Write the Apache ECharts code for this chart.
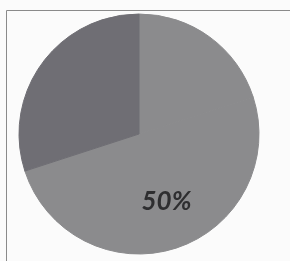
<!DOCTYPE html>
<html>
<head>
<meta charset="utf-8">
<script src="https://cdn.jsdelivr.net/npm/echarts@6/dist/echarts.min.js"></script>
<style>
  html, body { margin: 0; padding: 0; background: #fbfbfb; }
  #chart { width: 290px; height: 261px; }
</style>
</head>
<body>
<div id="chart"></div>
<script>
// slices, clockwise from 12 o'clock
var names = ["A", "B", "C"];
var values = [20, 50, 30];
var colors = ["#8b8b8d", "#8b8b8d", "#6f6e74"];
var labelled = [false, true, false];

var chart = echarts.init(document.getElementById("chart"));

var data = [];
for (var i = 0; i < values.length; i++) {
  data.push({
    name: names[i],
    value: values[i],
    // border in the slice's own colour hides the seam between same-coloured slices
    itemStyle: { color: colors[i], borderColor: colors[i], borderWidth: 1 },
    label: { show: labelled[i] }
  });
}

var option = {
  backgroundColor: "#fbfbfb",
  animation: false,
  graphic: [
    {
      type: "rect",
      z: -1,
      shape: { x: 6.5, y: 10.5, width: 300, height: 260 },
      style: { fill: "none", stroke: "#8a8a8a", lineWidth: 1 }
    }
  ],
  series: [
    {
      type: "pie",
      center: [139, 134],
      radius: [0, 120],
      startAngle: 90,
      clockwise: true,
      label: {
        position: "inside",
        formatter: "{d}%",
        fontFamily: "Lato",
        fontStyle: "italic",
        fontWeight: "bold",
        fontSize: 26,
        color: "#2e2e30",
        offset: [8, 8]
      },
      labelLine: { show: false },
      emphasis: { disabled: true },
      data: data
    }
  ]
};
chart.setOption(option);
</script>
</body>
</html>
